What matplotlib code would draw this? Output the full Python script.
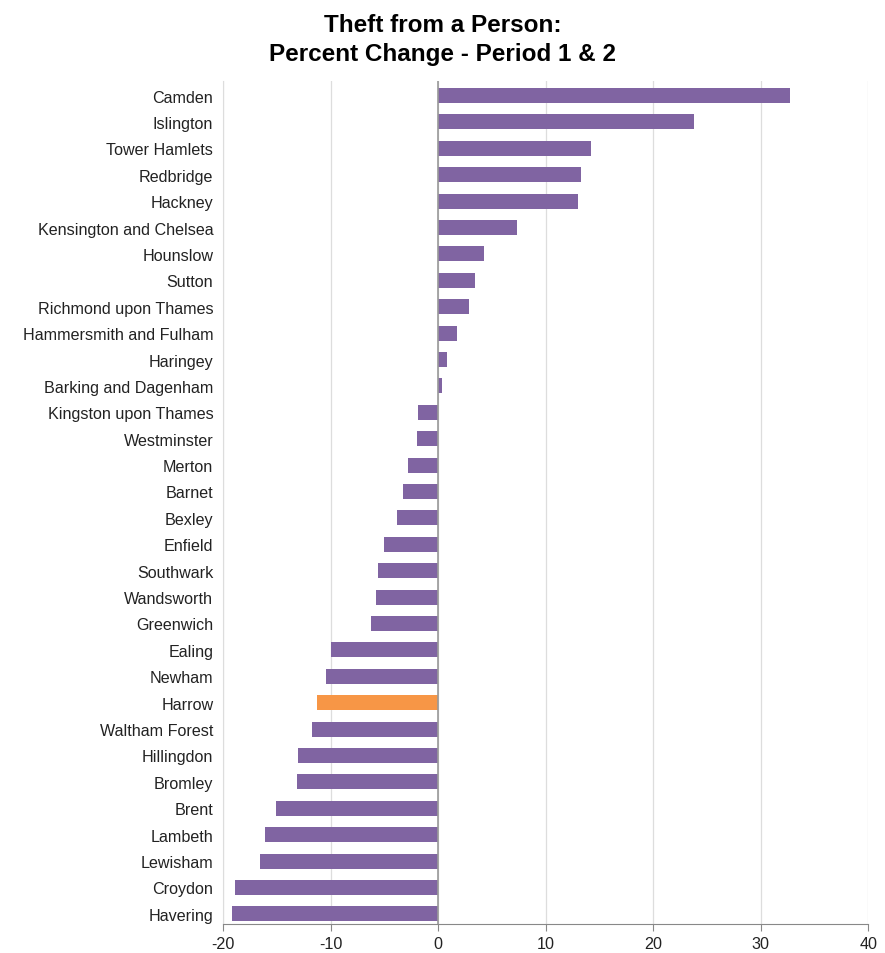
import matplotlib
matplotlib.use("Agg")
import matplotlib.pyplot as plt
import numpy as np

plt.rcParams['font.family'] = ['Liberation Sans', 'DejaVu Sans']
plt.rcParams['axes.unicode_minus'] = False

boroughs = ["Camden", "Islington", "Tower Hamlets", "Redbridge", "Hackney",
            "Kensington and Chelsea", "Hounslow", "Sutton", "Richmond upon Thames",
            "Hammersmith and Fulham", "Haringey", "Barking and Dagenham",
            "Kingston upon Thames", "Westminster", "Merton", "Barnet", "Bexley",
            "Enfield", "Southwark", "Wandsworth", "Greenwich", "Ealing", "Newham",
            "Harrow", "Waltham Forest", "Hillingdon", "Bromley", "Brent", "Lambeth",
            "Lewisham", "Croydon", "Havering"]
pct_change = [32.7, 23.8, 14.2, 13.3, 13.0, 7.3, 4.3, 3.4, 2.9, 1.8, 0.8, 0.4,
              -1.9, -2.0, -2.8, -3.3, -3.8, -5.0, -5.6, -5.8, -6.2, -10.0, -10.4,
              -11.3, -11.7, -13.0, -13.1, -15.1, -16.1, -16.6, -18.9, -19.2]
highlight = "Harrow"

purple = "#8064A2"
orange = "#F79646"
colors = [orange if b == highlight else purple for b in boroughs]

fig = plt.figure(figsize=(8.85, 9.54), dpi=100)
ax = fig.add_axes([0.252, 0.030, 0.729, 0.884])

y = np.arange(len(boroughs))
ax.barh(y, pct_change, height=0.57, color=colors, zorder=3)

ax.set_xlim(-20, 40)
ax.set_ylim(len(boroughs) - 0.6, -0.55)
ax.set_xticks([-20, -10, 0, 10, 20, 30, 40])
ax.set_yticks(y)
ax.set_yticklabels(boroughs, fontsize=11.6, color="#222222")
ax.tick_params(axis='x', labelsize=11.6, colors="#222222", length=5, color="#888888")
ax.tick_params(axis='y', length=0, pad=7)

ax.grid(axis='x', color="#dddddd", linewidth=0.9, zorder=0)
ax.axvline(0, color="#999999", linewidth=1.2, zorder=4)

for s in ['top', 'right']:
    ax.spines[s].set_visible(False)
ax.spines['left'].set_color("#dddddd")
ax.spines['bottom'].set_color("#888888")

fig.text(0.5, 0.985, "Theft from a Person:\nPercent Change - Period 1 & 2",
         ha='center', va='top', fontsize=17.5, fontweight='bold', linespacing=1.3)

fig.savefig("out.png", dpi=100)
